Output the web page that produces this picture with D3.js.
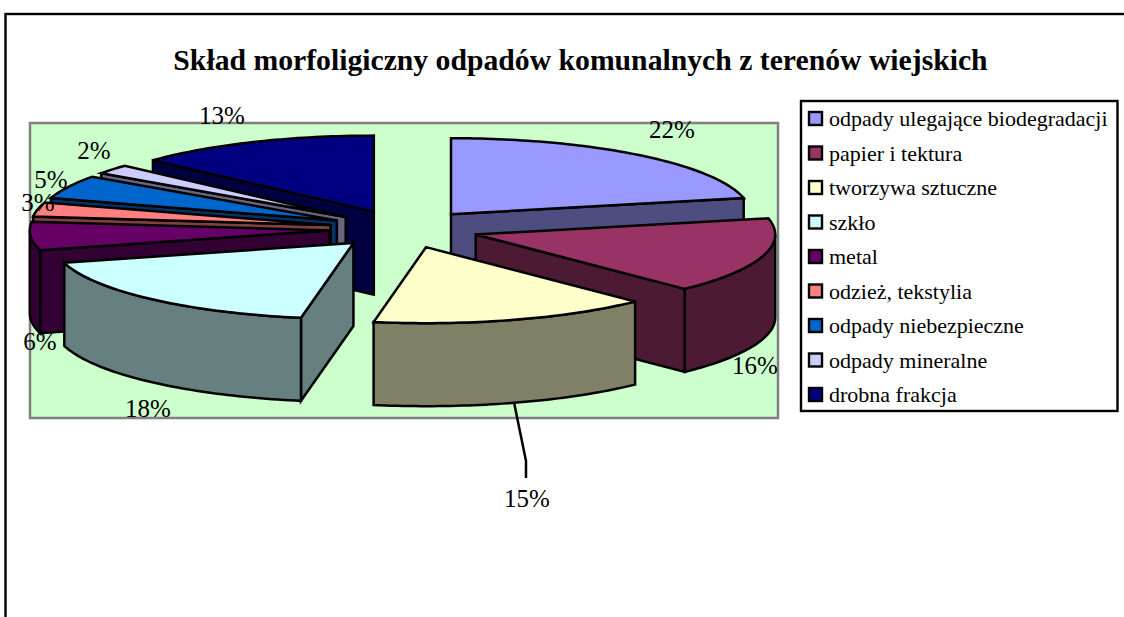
<!DOCTYPE html>
<html>
<head>
<meta charset="utf-8">
<script src="https://cdn.jsdelivr.net/npm/d3@7"></script>
<style>
  html, body { margin: 0; padding: 0; background: #fff; }
  text { font-family: "Liberation Serif", serif; fill: #000; }
</style>
</head>
<body>
<div class="canvas"></div>
<script>
// values (labels show them rounded)
const categories = ['odpady ulegające biodegradacji', 'papier i tektura', 'tworzywa sztuczne', 'szkło',
  'metal', 'odzież, tekstylia', 'odpady niebezpieczne', 'odpady mineralne', 'drobna frakcja'];
const shares = [21.6, 16.1, 15.1, 18, 6, 3, 5, 2, 13.2];
const colors = ['#9999FF', '#993366', '#FFFFCC', '#CCFFFF', '#660066', '#FF8080', '#0066CC', '#CCCCFF', '#000080'];
const title = 'Skład morfoligiczny odpadów komunalnych z terenów wiejskich';

const width = 1124, height = 617;

const svg = d3.select('.canvas').append('svg')
  .attr('width', width)
  .attr('height', height)
  .style('display', 'block');

// outer chart frame, runs off the right and bottom of the page
svg.append('rect')
  .attr('x', 5.5).attr('y', 14)
  .attr('width', 1140).attr('height', 640)
  .attr('fill', '#fff').attr('stroke', '#000').attr('stroke-width', 2.4);

svg.append('text')
  .attr('x', 580.5).attr('y', 70)
  .attr('text-anchor', 'middle')
  .attr('font-size', 29.7)
  .attr('font-weight', 'bold')
  .text(title);

// plot area
svg.append('rect')
  .attr('x', 30).attr('y', 123)
  .attr('width', 748).attr('height', 295)
  .attr('fill', '#CCFFCC').attr('stroke', '#808080').attr('stroke-width', 2.5);

// 3D pie: unit circle squashed to an ellipse, slices pushed out along their middle angle
const cx = 404, cy = 229, rx = 299.5, ry = 76, depth = 83, explode = 0.25;
const sx = d3.scaleLinear().domain([-1, 1]).range([cx - rx, cx + rx]);
const sy = d3.scaleLinear().domain([-1, 1]).range([cy + ry, cy - ry]);

const slices = d3.pie().sort(null).value(d => d)(shares).map((d, i) => {
  const mid = (d.startAngle + d.endAngle) / 2;
  return { i, a0: d.startAngle, a1: d.endAngle, mid,
    ox: explode * Math.sin(mid), oy: explode * Math.cos(mid) };
});

function pt(s, r, a, dz) {
  return [sx(s.ox + r * Math.sin(a)), sy(s.oy + r * Math.cos(a)) + dz];
}
function arcPts(s, a0, a1, dz) {
  const n = Math.max(2, Math.ceil((a1 - a0) / 0.02));
  return d3.range(n + 1).map(k => pt(s, 1, a0 + (a1 - a0) * k / n, dz));
}
const line = d3.line();
const poly = pts => line(pts) + 'Z';

// back to front
const order = slices.slice().sort((a, b) => d3.descending(Math.cos(a.mid), Math.cos(b.mid)));

const pie = svg.append('g')
  .attr('stroke', '#000').attr('stroke-width', 2.5).attr('stroke-linejoin', 'miter');

order.forEach(s => {
  const top = colors[s.i];
  const c = d3.rgb(top);
  const side = d3.rgb(c.r / 2, c.g / 2, c.b / 2).formatHex();
  const g = pie.append('g');

  // radial walls that face the viewer
  [[s.a0, Math.sin(s.a0) < -1e-6], [s.a1, Math.sin(s.a1) > 1e-6]].forEach(([a, vis]) => {
    if (!vis) return;
    g.append('path').attr('fill', side)
      .attr('d', poly([pt(s, 0, 0, 0), pt(s, 1, a, 0), pt(s, 1, a, depth), pt(s, 0, 0, depth)]));
  });

  // outer wall, only the front half of the rim
  const w0 = Math.max(s.a0, Math.PI / 2), w1 = Math.min(s.a1, Math.PI * 1.5);
  if (w1 > w0) {
    g.append('path').attr('fill', side)
      .attr('d', poly(arcPts(s, w0, w1, 0).concat(arcPts(s, w0, w1, depth).reverse())));
  }

  g.append('path').attr('fill', top)
    .attr('d', poly([pt(s, 0, 0, 0)].concat(arcPts(s, s.a0, s.a1, 0))));
});

// data labels sit where the original placed them, by hand
const labelSpots = [[672, 138], [755, 374], [527, 507], [148, 417], [40, 350], [38, 211], [51, 188], [94, 159], [222, 124]];
svg.append('g').selectAll('text').data(shares).join('text')
  .attr('x', (d, i) => labelSpots[i][0])
  .attr('y', (d, i) => labelSpots[i][1])
  .attr('text-anchor', 'middle')
  .attr('font-size', 25)
  .text(d => Math.round(d) + '%');

// leader line for the 15% label
const yellow = slices[2];
const leaderStart = pt(yellow, 1, yellow.mid, depth);
svg.append('path')
  .attr('fill', 'none').attr('stroke', '#000').attr('stroke-width', 2.5)
  .attr('d', line([leaderStart, [526, 461], [526, 478]]));

// legend
svg.append('rect')
  .attr('x', 801).attr('y', 101)
  .attr('width', 316.5).attr('height', 310)
  .attr('fill', '#fff').attr('stroke', '#000').attr('stroke-width', 2.4);

const ly = d3.scalePoint().domain(d3.range(categories.length)).range([118.5, 394.5]);
const legend = svg.append('g').selectAll('g').data(categories).join('g')
  .attr('transform', (d, i) => `translate(0,${ly(i)})`);
legend.append('rect')
  .attr('x', 809).attr('y', -6.5)
  .attr('width', 13).attr('height', 13)
  .attr('fill', (d, i) => colors[i])
  .attr('stroke', '#000').attr('stroke-width', 2.4);
legend.append('text')
  .attr('x', 829).attr('y', 7.5)
  .attr('font-size', 22)
  .text(d => d);
</script>
</body>
</html>
